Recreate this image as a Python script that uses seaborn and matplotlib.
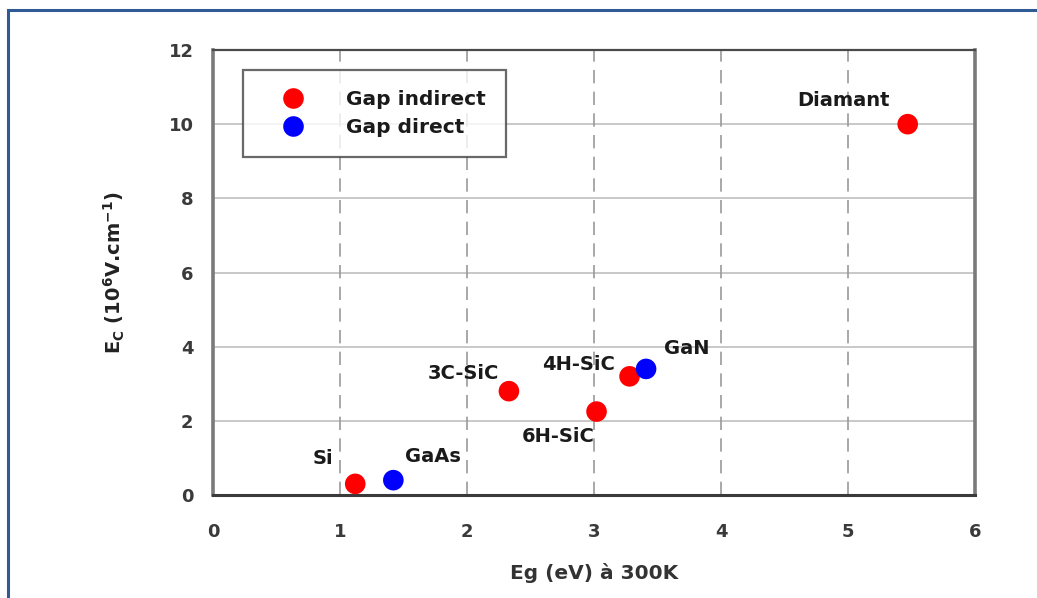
import matplotlib
matplotlib.use("Agg")
import matplotlib.pyplot as plt
import seaborn as sns
import pandas as pd
from matplotlib.patches import Rectangle

materials = ["Si", "GaAs", "3C-SiC", "6H-SiC", "4H-SiC", "GaN", "Diamant"]
eg = [1.12, 1.42, 2.33, 3.02, 3.28, 3.41, 5.47]
ec = [0.3, 0.4, 2.8, 2.25, 3.2, 3.4, 10.0]
gap = ["Gap indirect", "Gap direct", "Gap indirect", "Gap indirect",
       "Gap indirect", "Gap direct", "Gap indirect"]
x_ticks = [0, 1, 2, 3, 4, 5, 6]
y_ticks = [0, 2, 4, 6, 8, 10, 12]

df = pd.DataFrame({"material": materials, "Eg": eg, "Ec": ec, "gap": gap})

sns.set_style("white")
plt.rcParams["font.family"] = ["DejaVu Sans"]
plt.rcParams["font.weight"] = "bold"
plt.rcParams["mathtext.fontset"] = "dejavusans"
plt.rcParams["mathtext.default"] = "bf"

fig = plt.figure(figsize=(10.37, 5.98), dpi=100)
ax = fig.add_axes([213/1037, 1 - 495/598, (975-213)/1037, (495-50)/598])

# outer blue frame
fig.patches.append(Rectangle((8/1037, -0.1), 1.2, 1 - 10/598 + 0.1,
                             transform=fig.transFigure, fill=False,
                             edgecolor="#2F5A94", linewidth=2.2, zorder=0))

sns.scatterplot(data=df, x="Eg", y="Ec", hue="gap",
                hue_order=["Gap indirect", "Gap direct"],
                palette={"Gap indirect": "#FF0000", "Gap direct": "#0000FF"},
                s=220, edgecolor="none", ax=ax, zorder=3)

ax.set_xlim(0, 6)
ax.set_ylim(0, 12)
ax.set_xticks(x_ticks)
ax.set_yticks(y_ticks)
ax.tick_params(axis="both", labelsize=13, labelcolor="#3a3a3a",
               direction="out", length=4, width=1.5, color="#333333")
ax.tick_params(axis="y", pad=10)
ax.tick_params(axis="x", pad=16)
for lab in ax.get_xticklabels() + ax.get_yticklabels():
    lab.set_fontweight("bold")

# grid
for yv in y_ticks[1:-1]:
    ax.axhline(yv, color="#c4c4c4", linewidth=1.3, zorder=1)
for xv in x_ticks[1:-1]:
    ax.axvline(xv, color="#9a9a9a", linewidth=1.2, linestyle=(0, (8, 5)), zorder=1)

ax.spines["left"].set_color("#7a7a7a")
ax.spines["left"].set_linewidth(2.6)
ax.spines["right"].set_color("#7a7a7a")
ax.spines["right"].set_linewidth(2.6)
ax.spines["bottom"].set_color("#3a3a3a")
ax.spines["bottom"].set_linewidth(2.2)
ax.spines["top"].set_color("#4a4a4a")
ax.spines["top"].set_linewidth(1.6)

ax.set_xlabel("Eg (eV) à 300K", fontsize=14.5, fontweight="bold", color="#333333", labelpad=16)
ax.set_ylabel(r"E$_C$ (10$^6$V.cm$^{-1}$)", fontsize=14,
              fontweight="bold", color="#222222", labelpad=30)

# point labels (offsets in pixels -> points)
offsets = {
    "Si": (-22, 25, "right"),
    "GaAs": (12, 24, "left"),
    "3C-SiC": (-10, 18, "right"),
    "6H-SiC": (-2, -25, "right"),
    "4H-SiC": (-15, 12, "right"),
    "GaN": (18, 20, "left"),
    "Diamant": (-18, 24, "right"),
}
for m, xv, yv in zip(materials, eg, ec):
    dx, dy, ha = offsets[m]
    ax.annotate(m, (xv, yv), xytext=(dx * 0.72, dy * 0.72), textcoords="offset points",
                ha=ha, va="center", fontsize=14, fontweight="bold", color="#1a1a1a")

leg = ax.legend(loc="upper left", bbox_to_anchor=(30/762, 1 - 20/445),
                borderaxespad=0, fancybox=False, frameon=True, fontsize=14.5,
                markerscale=1.0, handletextpad=1.1, borderpad=1.0,
                labelspacing=0.45, handlelength=3.0, title=None)
leg.get_frame().set_edgecolor("#444444")
leg.get_frame().set_linewidth(1.6)
for t in leg.get_texts():
    t.set_fontweight("bold")
    t.set_color("#1a1a1a")

fig.savefig("out.png", dpi=100)
